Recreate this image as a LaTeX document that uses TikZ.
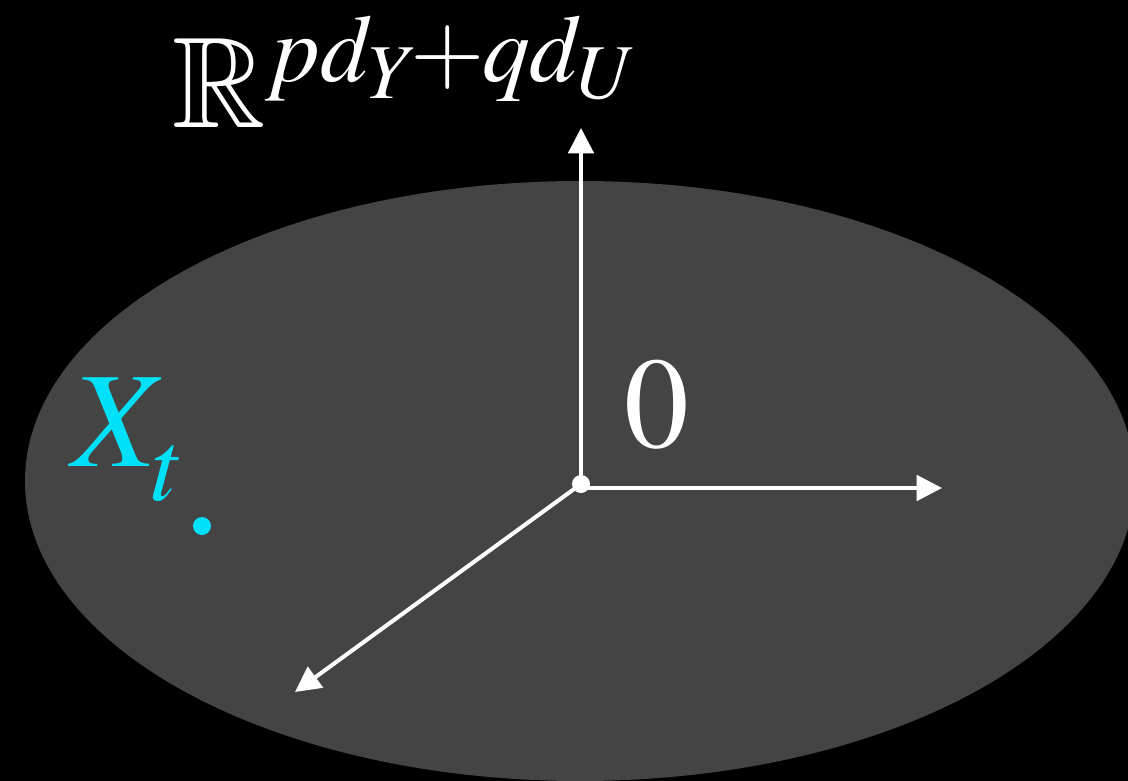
\documentclass[tikz,border=0pt]{standalone}
\usepackage{mathptmx}
\usepackage{amsmath,amssymb}
\usetikzlibrary{arrows.meta}
\definecolor{blobgray}{HTML}{444444}
\definecolor{ptcyan}{HTML}{00E1F7}
\tikzset{
  axis/.style={white, line width=3pt},
  dotnode/.style={circle, inner sep=0pt, minimum size=13.5pt},
  lab/.style={anchor=base west, inner sep=0pt}
}
\begin{document}
\begin{tikzpicture}[>={Triangle[length=19pt,width=19pt]}, x=0.75pt, y=-0.75pt,
    font=\fontsize{97}{97}\selectfont]
    \fill[black] (0,0) rectangle (1128,781);
    \useasboundingbox (0,0) rectangle (1128,781);
    \clip (0,0) rectangle (1128,781);
    % the space
    \fill[blobgray] (580,481) ellipse [x radius=555, y radius=300];
    % axes from the origin
    \coordinate (O) at (581,484);
    \coordinate (up) at (581,128);
    \coordinate (right) at (942,488);
    \coordinate (down) at (295,692);
    \draw[axis,->] (O) -- (up);
    \draw[axis,->] (O |- right) -- (right);
    \draw[axis,->] (O) -- (down);
    \node[dotnode, fill=white] (origin) at (O) {};
    \node[lab, white] (zero) at (624,447) {$0$};
    \node[lab, white] (space) at (172,128)
      {$\mathbb{R}^{pd_{Y}\mkern-1.5mu{+}\mkern-0.5mu qd_{U}}$};
    % the point
    \node[lab, ptcyan, font=\fontsize{102}{102}\selectfont] (xt) at (72,466)
      {$X_{\raisebox{-0.1em}{$\scriptstyle t$}}$};
    \node[dotnode, fill=ptcyan] (pt) at (202,526) {};
\end{tikzpicture}
\end{document}
